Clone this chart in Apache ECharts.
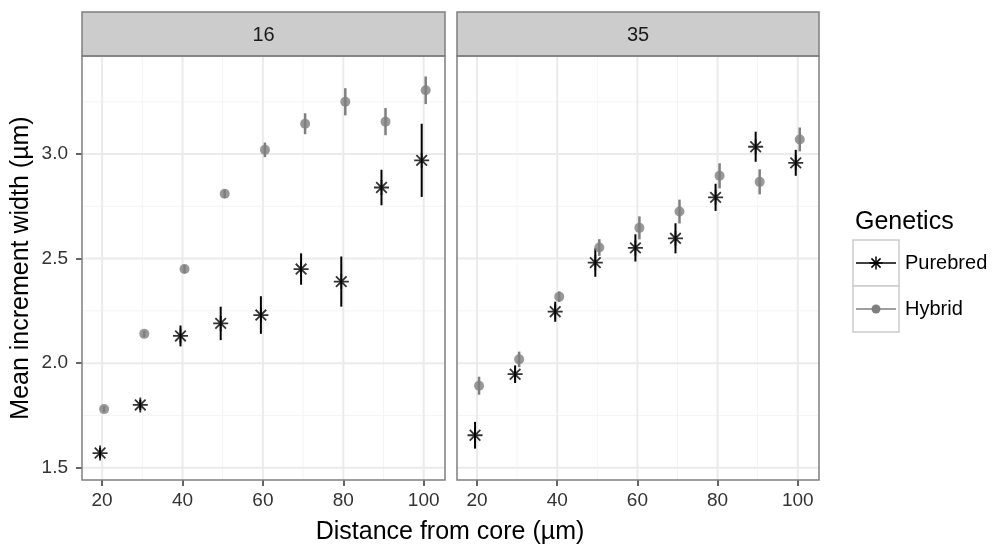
<!DOCTYPE html>
<html><head><meta charset="utf-8">
<script src="https://cdn.jsdelivr.net/npm/echarts@6/dist/echarts.min.js"></script>
<style>html,body{margin:0;padding:0;background:#fff}#c{width:996px;height:549px}</style>
</head><body><div id="c"></div>
<script>
// ---- data ----
const distances = [20, 30, 40, 50, 60, 70, 80, 90, 100];
const panelLabels = ['16', '35'];
const genetics = ['Purebred', 'Hybrid'];
const pure16Mean = [1.57, 1.80, 2.13, 2.19, 2.23, 2.45, 2.39, 2.84, 2.97];
const pure16Err  = [0.025, 0.025, 0.05, 0.08, 0.09, 0.075, 0.12, 0.085, 0.175];
const hyb16Mean  = [1.78, 2.14, 2.45, 2.81, 3.02, 3.145, 3.25, 3.155, 3.305];
const hyb16Err   = [0.015, 0.015, 0.02, 0.02, 0.035, 0.05, 0.065, 0.065, 0.066];
const pure35Mean = [1.655, 1.947, 2.246, 2.481, 2.551, 2.597, 2.793, 3.035, 2.958];
const pure35Err  = [0.064, 0.042, 0.048, 0.068, 0.065, 0.072, 0.065, 0.072, 0.062];
const hyb35Mean  = [1.892, 2.018, 2.318, 2.553, 2.647, 2.725, 2.896, 2.867, 3.070];
const hyb35Err   = [0.043, 0.037, 0.025, 0.040, 0.055, 0.057, 0.060, 0.060, 0.057];
const xMajorTicks = [20, 40, 60, 80, 100];
const xMinorTicks = [30, 50, 70, 90];
const yMajorTicks = [1.5, 2.0, 2.5, 3.0];
const yMinorTicks = [1.75, 2.25, 2.75, 3.25];
const xTitle = 'Distance from core (µm)';
const yTitle = 'Mean increment width (µm)';
const legendTitle = 'Genetics';

// ---- layout / style ----
const X_MIN = 15, X_MAX = 105.3, Y_MIN = 1.441, Y_MAX = 3.469;
const DODGE = 0.5;
const FONT = '"Liberation Sans", Arial, sans-serif';
const GRIDS = [
  {left: 82, top: 56, width: 363, height: 424},
  {left: 457, top: 56, width: 362, height: 424}
];
const STRIP_TOP = 12;
const BORDER = '#7f7f7f';
const STAR = 'path://M0,-10L0,10M-10,0L10,0M-7.07,-7.07L7.07,7.07M-7.07,7.07L7.07,-7.07';

function gridLineSeries(idx, vals, dir, color, width) {
  return {
    type: 'custom', xAxisIndex: idx, yAxisIndex: idx, silent: true, z: 1,
    data: vals.map(v => dir === 'x' ? [v, Y_MIN] : [X_MIN, v]),
    renderItem: (params, api) => {
      const cs = params.coordSys;
      const p = api.coord([api.value(0), api.value(1)]);
      const shape = dir === 'x'
        ? {x1: p[0], y1: cs.y, x2: p[0], y2: cs.y + cs.height}
        : {x1: cs.x, y1: p[1], x2: cs.x + cs.width, y2: p[1]};
      return {type: 'line', shape, style: {stroke: color, lineWidth: width}};
    }
  };
}
function errSeries(idx, name, means, errs, off, color, width) {
  return {
    type: 'custom', name: name + ' range', xAxisIndex: idx, yAxisIndex: idx, z: 3, silent: true,
    data: distances.map((d, i) => [d + off, means[i] - errs[i], means[i] + errs[i]]),
    encode: {x: 0, y: [1, 2]},
    renderItem: (params, api) => {
      const a = api.coord([api.value(0), api.value(1)]);
      const b = api.coord([api.value(0), api.value(2)]);
      return {type: 'line', shape: {x1: a[0], y1: a[1], x2: b[0], y2: b[1]}, style: {stroke: color, lineWidth: width}};
    }
  };
}
function pureSeries(idx, means) {
  return {
    type: 'scatter', name: genetics[0], xAxisIndex: idx, yAxisIndex: idx, z: 4, silent: true,
    symbol: STAR, symbolSize: 15,
    itemStyle: {color: 'rgba(0,0,0,0)', borderColor: '#000', borderWidth: 1.8},
    data: distances.map((d, i) => [d - DODGE, means[i]])
  };
}
function hybSeries(idx, means) {
  return {
    type: 'scatter', name: genetics[1], xAxisIndex: idx, yAxisIndex: idx, z: 5, silent: true,
    symbol: 'circle', symbolSize: 10,
    itemStyle: {color: '#7f7f7f'},
    data: distances.map((d, i) => [d + DODGE, means[i]])
  };
}

const series = [];
[0, 1].forEach(i => {
  series.push(gridLineSeries(i, xMinorTicks, 'x', '#f4f4f4', 1));
  series.push(gridLineSeries(i, yMinorTicks, 'y', '#f4f4f4', 1));
  series.push(gridLineSeries(i, xMajorTicks, 'x', '#ebebeb', 2));
  series.push(gridLineSeries(i, yMajorTicks, 'y', '#ebebeb', 2));
});
series.push(errSeries(0, 'Purebred', pure16Mean, pure16Err, -DODGE, '#000', 2));
series.push(errSeries(0, 'Hybrid', hyb16Mean, hyb16Err, DODGE, '#7f7f7f', 2.5));
series.push(pureSeries(0, pure16Mean));
series.push(hybSeries(0, hyb16Mean));
series.push(errSeries(1, 'Purebred', pure35Mean, pure35Err, -DODGE, '#000', 2));
series.push(errSeries(1, 'Hybrid', hyb35Mean, hyb35Err, DODGE, '#7f7f7f', 2.5));
series.push(pureSeries(1, pure35Mean));
series.push(hybSeries(1, hyb35Mean));

const xAxes = [0, 1].map(i => ({
  type: 'value', gridIndex: i, min: X_MIN, max: X_MAX,
  axisLine: {show: false},
  axisTick: {show: true, customValues: xMajorTicks, length: 6, lineStyle: {color: '#333', width: 1.5}},
  axisLabel: {customValues: xMajorTicks, fontSize: 19, color: '#333', margin: 11, fontFamily: FONT},
  splitLine: {show: false}
}));
const yAxes = [0, 1].map(i => ({
  type: 'value', gridIndex: i, min: Y_MIN, max: Y_MAX,
  axisLine: {show: false},
  axisTick: {show: i === 0, customValues: yMajorTicks, length: 6, lineStyle: {color: '#333', width: 1.5}},
  axisLabel: {show: i === 0, customValues: yMajorTicks, fontSize: 19, color: '#333', margin: 14, fontFamily: FONT,
    formatter: v => v.toFixed(1)},
  splitLine: {show: false},
  name: i === 0 ? yTitle : '',
  nameLocation: 'middle', nameGap: 48,
  nameTextStyle: {fontSize: 25, color: '#000', fontFamily: FONT}
}));

const graphic = [];
GRIDS.forEach((g, i) => {
  graphic.push({type: 'rect', z: 100, shape: {x: g.left, y: STRIP_TOP, width: g.width, height: g.top - STRIP_TOP},
    style: {fill: '#cccccc', stroke: BORDER, lineWidth: 1.5}});
  graphic.push({type: 'text', z: 101, x: g.left + g.width / 2, y: (STRIP_TOP + g.top) / 2 + 1,
    style: {text: panelLabels[i], font: '20px ' + FONT, fill: '#1a1a1a', textAlign: 'center', textVerticalAlign: 'middle'}});
  graphic.push({type: 'rect', z: 100, shape: {x: g.left, y: g.top, width: g.width, height: g.height},
    style: {fill: 'none', stroke: BORDER, lineWidth: 1.5}});
});
graphic.push({type: 'text', z: 101, x: 450, y: 532,
  style: {text: xTitle, font: '25px ' + FONT, fill: '#000', textAlign: 'center', textVerticalAlign: 'middle'}});
// legend
const LX = 853, LY = 240, KS = 46;
graphic.push({type: 'text', z: 101, x: LX + 2, y: 222,
  style: {text: legendTitle, font: '25px ' + FONT, fill: '#000', textAlign: 'left', textVerticalAlign: 'middle'}});
[0, 1].forEach(k => {
  const y0 = LY + k * KS, cy = y0 + KS / 2, cx = LX + KS / 2;
  graphic.push({type: 'rect', z: 100, shape: {x: LX, y: y0, width: KS, height: KS},
    style: {fill: '#fff', stroke: '#cccccc', lineWidth: 1.5}});
  graphic.push({type: 'line', z: 101, shape: {x1: LX + 3, y1: cy, x2: LX + KS - 3, y2: cy},
    style: {stroke: k === 0 ? '#000' : '#7f7f7f', lineWidth: 1.5}});
  graphic.push({type: 'text', z: 101, x: LX + KS + 6, y: cy,
    style: {text: genetics[k], font: '20px ' + FONT, fill: '#000', textAlign: 'left', textVerticalAlign: 'middle'}});
  if (k === 0) {
    const r = 6.5, d = r * 0.707;
    [[0, -r, 0, r], [-r, 0, r, 0], [-d, -d, d, d], [-d, d, d, -d]].forEach(s => {
      graphic.push({type: 'line', z: 102, shape: {x1: cx + s[0], y1: cy + s[1], x2: cx + s[2], y2: cy + s[3]},
        style: {stroke: '#000', lineWidth: 1.5}});
    });
  } else {
    graphic.push({type: 'circle', z: 102, shape: {cx: cx, cy: cy, r: 4.5}, style: {fill: '#7f7f7f'}});
  }
});

const chart = echarts.init(document.getElementById('c'), null, {renderer: 'canvas'});
chart.setOption({
  animation: false,
  backgroundColor: '#fff',
  textStyle: {fontFamily: FONT},
  grid: GRIDS.map(g => Object.assign({show: false, containLabel: false}, g)),
  xAxis: xAxes,
  yAxis: yAxes,
  series,
  graphic
});
</script>
</body></html>
